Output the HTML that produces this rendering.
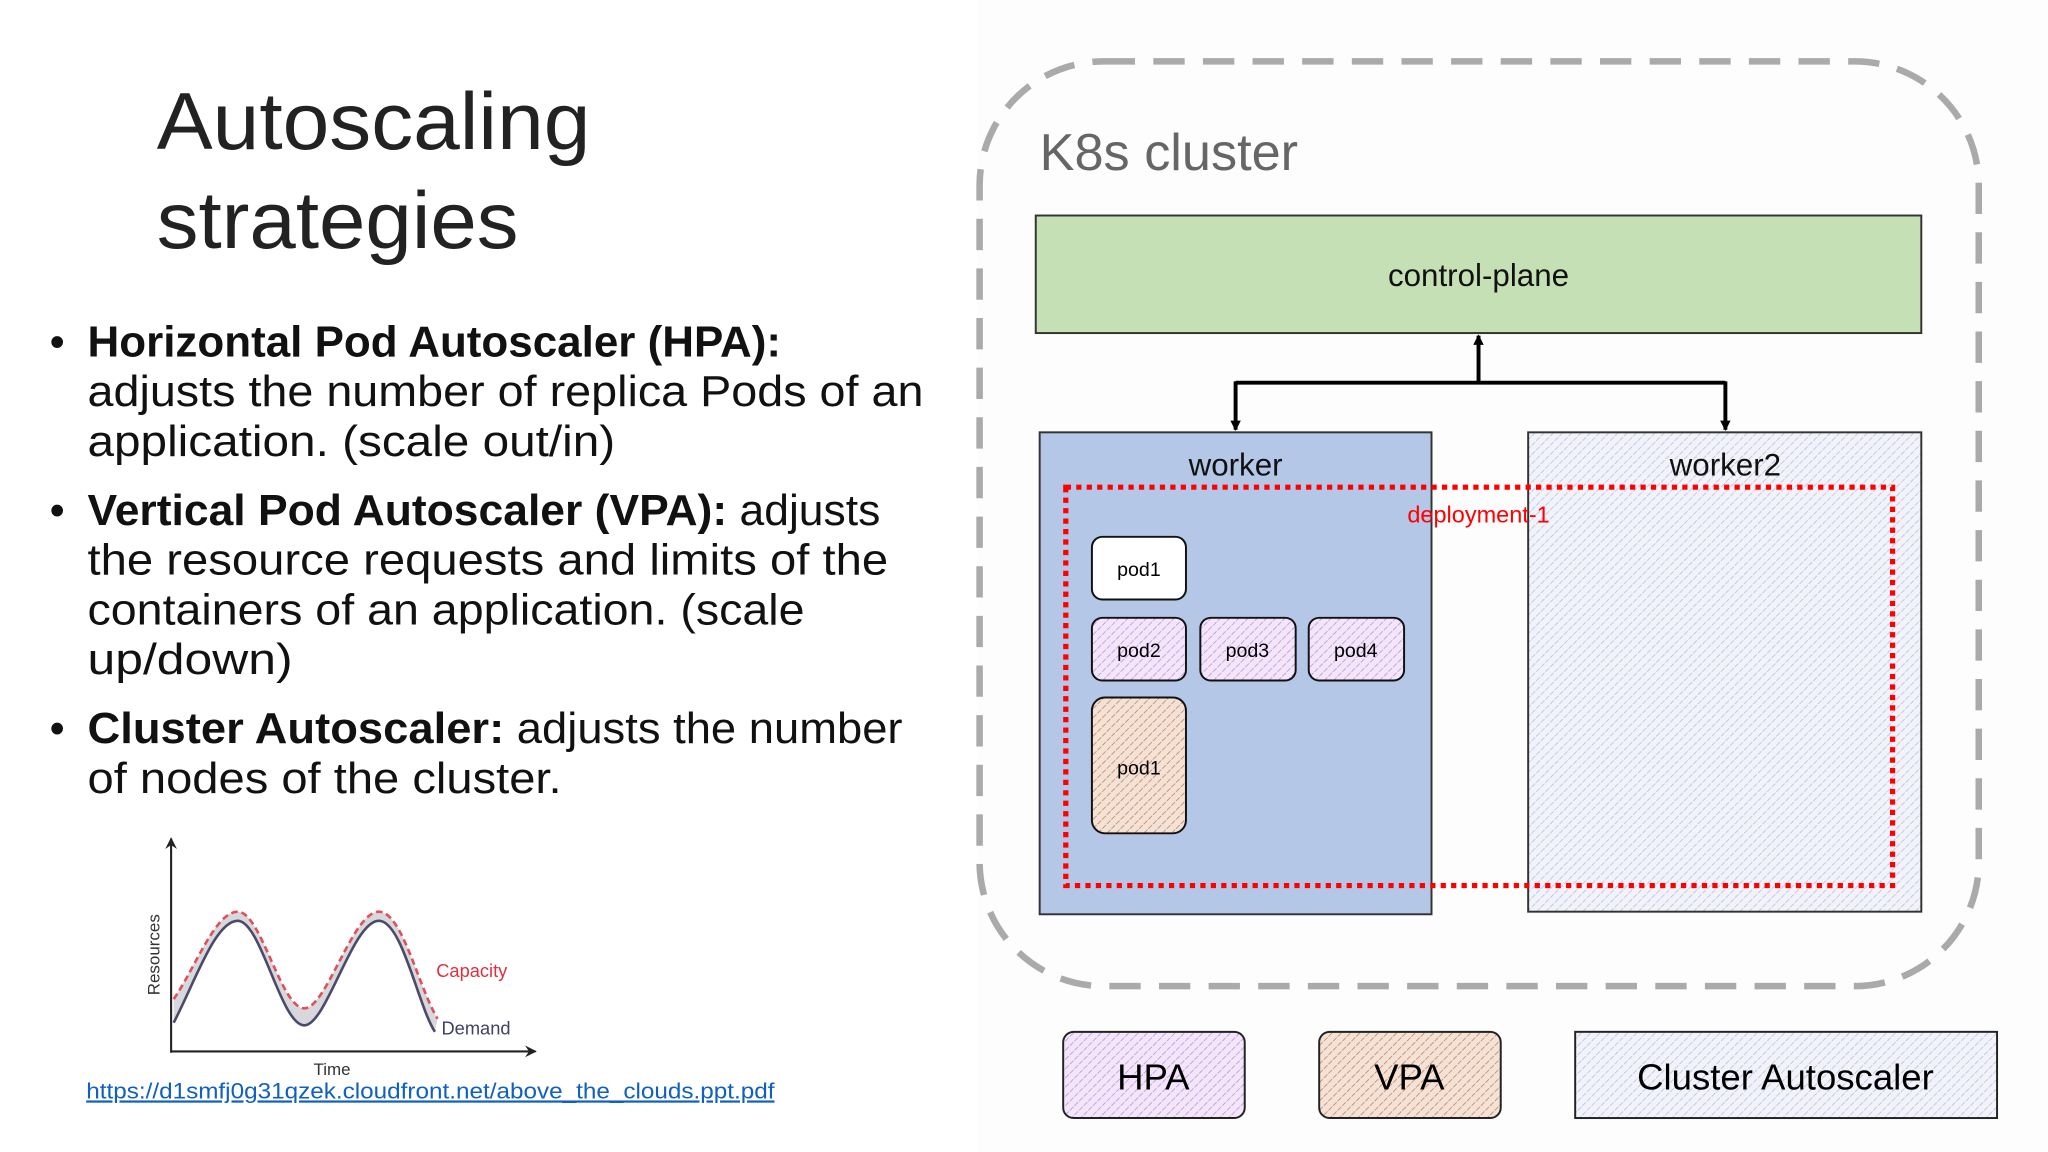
<!DOCTYPE html>
<html><head><meta charset="utf-8"><style>
html,body{margin:0;padding:0;background:#fff;}
svg{display:block;}
text{font-family:"Liberation Sans",sans-serif;}
</style></head><body>
<svg width="2048" height="1152" viewBox="0 0 1568 882" xmlns="http://www.w3.org/2000/svg">
<defs>
<pattern id="pPurp" width="5" height="5" patternUnits="userSpaceOnUse" patternTransform="rotate(45)">
<rect width="5" height="5" fill="#f3e6fa"/><line x1="0" y1="0" x2="0" y2="5" stroke="#c79be0" stroke-width="1.4" stroke-dasharray="2,1"/></pattern>
<pattern id="pBrown" width="5" height="5" patternUnits="userSpaceOnUse" patternTransform="rotate(45)">
<rect width="5" height="5" fill="#f5e2d6"/><line x1="0" y1="0" x2="0" y2="5" stroke="#c9906e" stroke-width="1.4" stroke-dasharray="2,1"/></pattern>
<pattern id="pBlue" width="5" height="5" patternUnits="userSpaceOnUse" patternTransform="rotate(45)">
<rect width="5" height="5" fill="#f2f3fa"/><line x1="0" y1="0" x2="0" y2="5" stroke="#c0c6df" stroke-width="1.4" stroke-dasharray="2,1"/></pattern>
<marker id="ah" markerWidth="8" markerHeight="8" refX="7" refY="4" orient="auto" markerUnits="userSpaceOnUse"><path d="M0,0 L8,4 L0,8 z" fill="#000"/></marker>
<marker id="ah2" markerWidth="9" markerHeight="9" refX="8" refY="4.5" orient="auto" markerUnits="userSpaceOnUse"><path d="M0,0 L9,4.5 L0,9 L3,4.5 z" fill="#222"/></marker>
</defs>
<rect x="748" y="0" width="820" height="882" fill="#fdfdfd"/>

<text x="120" y="114" font-size="62" fill="#222" textLength="332" lengthAdjust="spacingAndGlyphs">Autoscaling</text>
<text x="120" y="190" font-size="62" fill="#222" textLength="277" lengthAdjust="spacingAndGlyphs">strategies</text>

<g font-size="33" fill="#111">
<text x="38" y="273">•</text>
<text x="67" y="273" font-weight="bold" textLength="531" lengthAdjust="spacingAndGlyphs">Horizontal Pod Autoscaler (HPA):</text>
<text x="67" y="311" textLength="640" lengthAdjust="spacingAndGlyphs">adjusts the number of replica Pods of an</text>
<text x="67" y="349" textLength="404" lengthAdjust="spacingAndGlyphs">application. (scale out/in)</text>
<text x="38" y="402">•</text>
<text x="67" y="402" textLength="607" lengthAdjust="spacingAndGlyphs"><tspan font-weight="bold">Vertical Pod Autoscaler (VPA):</tspan> adjusts</text>
<text x="67" y="440" textLength="613" lengthAdjust="spacingAndGlyphs">the resource requests and limits of the</text>
<text x="67" y="478" textLength="549" lengthAdjust="spacingAndGlyphs">containers of an application. (scale</text>
<text x="67" y="516" textLength="157" lengthAdjust="spacingAndGlyphs">up/down)</text>
<text x="38" y="569">•</text>
<text x="67" y="569" textLength="624" lengthAdjust="spacingAndGlyphs"><tspan font-weight="bold">Cluster Autoscaler:</tspan> adjusts the number</text>
<text x="67" y="607" textLength="363" lengthAdjust="spacingAndGlyphs">of nodes of the cluster.</text>
</g>

<path d="M133,783 C150,750 165,705 182,705 C200,705 215,785 233,785 C250,785 270,705 290,705 C308,705 320,770 333,790 L335,780 C320,755 308,698 290,698 C270,698 250,772 233,772 C215,772 200,698 182,698 C165,698 150,740 133,765 Z" fill="#d8d8dc"/>
<path d="M133,765 C150,740 165,698 182,698 C200,698 215,772 233,772 C250,772 270,698 290,698 C308,698 320,755 335,780" fill="none" stroke="#e0505a" stroke-width="2" stroke-dasharray="5,3"/>
<path d="M133,783 C150,750 165,705 182,705 C200,705 215,785 233,785 C250,785 270,705 290,705 C308,705 320,770 333,790" fill="none" stroke="#4a4a6a" stroke-width="2"/>
<line x1="131" y1="806" x2="131" y2="642" stroke="#222" stroke-width="1.6" marker-end="url(#ah2)"/>
<line x1="131" y1="805" x2="410" y2="805" stroke="#222" stroke-width="1.6" marker-end="url(#ah2)"/>
<text x="334" y="748" font-size="14" fill="#e03040">Capacity</text>
<text x="338" y="792" font-size="14" fill="#404068">Demand</text>
<text x="240" y="823" font-size="13" fill="#333">Time</text>
<text transform="translate(122,762) rotate(-90)" font-size="13" fill="#333">Resources</text>
<text x="66" y="841" font-size="17" fill="#1060c0" text-decoration="underline" textLength="527" lengthAdjust="spacingAndGlyphs">https://d1smfj0g31qzek.cloudfront.net/above_the_clouds.ppt.pdf</text>

<rect x="750" y="47" width="765" height="708" rx="95" fill="none" stroke="#aaa" stroke-width="5" stroke-dasharray="24,14"/>
<text x="796" y="130" font-size="40" fill="#666">K8s cluster</text>

<rect x="793" y="165" width="678" height="90" fill="#c5e0b4" stroke="#333" stroke-width="1.5"/>
<text x="1132" y="219" font-size="24" text-anchor="middle" fill="#111">control-plane</text>

<line x1="1132" y1="293" x2="1132" y2="257" stroke="#000" stroke-width="3" marker-end="url(#ah)"/>
<polyline points="946,293 1321,293" fill="none" stroke="#000" stroke-width="3"/>
<line x1="946" y1="292" x2="946" y2="329" stroke="#000" stroke-width="3" marker-end="url(#ah)"/>
<line x1="1321" y1="292" x2="1321" y2="329" stroke="#000" stroke-width="3" marker-end="url(#ah)"/>

<rect x="796" y="331" width="300" height="369" fill="#b4c7e7" stroke="#333" stroke-width="1.5"/>
<text x="946" y="364" font-size="24" text-anchor="middle" fill="#111">worker</text>
<rect x="1170" y="331" width="301" height="367" fill="url(#pBlue)" stroke="#333" stroke-width="1.5"/>
<text x="1321" y="364" font-size="24" text-anchor="middle" fill="#111">worker2</text>

<rect x="836" y="411" width="72" height="48" rx="8" fill="#fff" stroke="#111" stroke-width="1.5"/>
<text x="872" y="441" font-size="15" text-anchor="middle">pod1</text>
<rect x="836" y="473" width="72" height="48" rx="8" fill="url(#pPurp)" stroke="#111" stroke-width="1.5"/>
<text x="872" y="503" font-size="15" text-anchor="middle">pod2</text>
<rect x="919" y="473" width="73" height="48" rx="8" fill="url(#pPurp)" stroke="#111" stroke-width="1.5"/>
<text x="955" y="503" font-size="15" text-anchor="middle">pod3</text>
<rect x="1002" y="473" width="73" height="48" rx="8" fill="url(#pPurp)" stroke="#111" stroke-width="1.5"/>
<text x="1038" y="503" font-size="15" text-anchor="middle">pod4</text>
<rect x="836" y="534" width="72" height="104" rx="10" fill="url(#pBrown)" stroke="#111" stroke-width="1.5"/>
<text x="872" y="593" font-size="15" text-anchor="middle">pod1</text>

<rect x="816" y="373" width="633" height="305" fill="none" stroke="#f00" stroke-width="4" stroke-dasharray="4,4"/>
<text x="1132" y="400" font-size="18" text-anchor="middle" fill="#f00">deployment-1</text>

<rect x="814" y="790" width="139" height="66" rx="8" fill="url(#pPurp)" stroke="#222" stroke-width="1.5"/>
<text x="883" y="834" font-size="28" text-anchor="middle">HPA</text>
<rect x="1010" y="790" width="139" height="66" rx="8" fill="url(#pBrown)" stroke="#222" stroke-width="1.5"/>
<text x="1079" y="834" font-size="28" text-anchor="middle">VPA</text>
<rect x="1206" y="790" width="323" height="66" fill="url(#pBlue)" stroke="#222" stroke-width="1.5"/>
<text x="1367" y="834" font-size="28" text-anchor="middle">Cluster Autoscaler</text>
</svg>
</body></html>
